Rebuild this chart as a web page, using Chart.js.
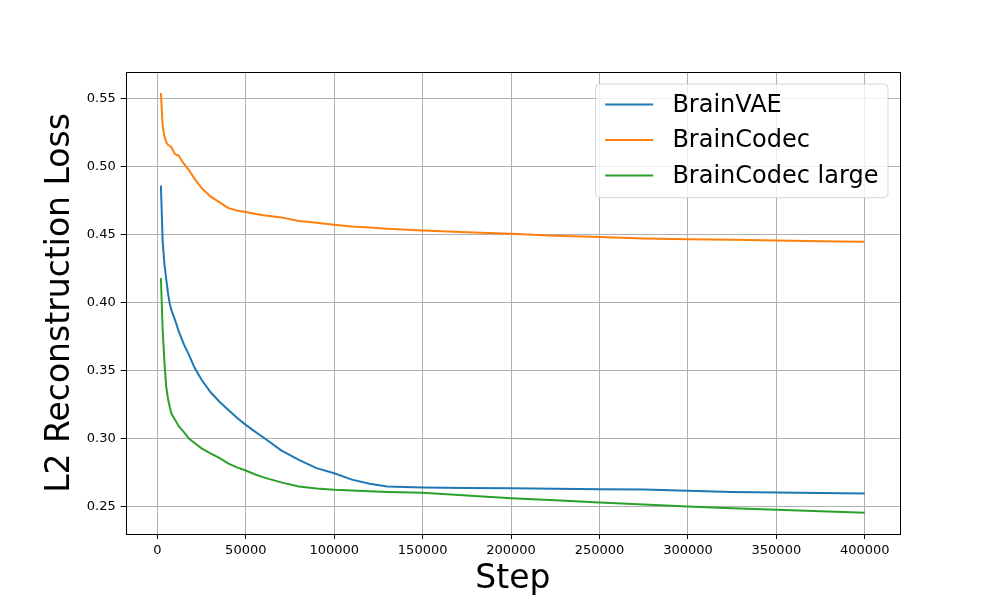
<!DOCTYPE html>
<html>
<head>
<meta charset="utf-8">
<script src="https://cdn.jsdelivr.net/npm/chart.js@4.4.1/dist/chart.umd.min.js"></script>
<style>
  body { margin: 0; background: #fff; }
  canvas { display: block; }
</style>
</head>
<body>
<canvas id="lossChart" width="1000" height="600"></canvas>
<script>
// training steps (shared by all three runs)
const steps = [2000, 3000, 4000, 5000, 6000, 7000, 8000, 10000, 12000, 15000, 18000, 21000, 25000,
  30000, 35000, 40000, 45000, 50000, 55000, 60000, 70000, 80000, 90000, 100000, 110000,
  120000, 130000, 150000, 175000, 200000, 225000, 250000, 275000, 300000, 325000, 350000,
  375000, 400000];

// L2 reconstruction loss
const brainVAE = [0.486, 0.445, 0.428, 0.417, 0.407, 0.399, 0.394, 0.387, 0.379, 0.369, 0.361, 0.352, 0.343,
  0.334, 0.327, 0.321, 0.315, 0.3098, 0.305, 0.3005, 0.291, 0.284, 0.278, 0.2742, 0.2695,
  0.2665, 0.2645, 0.2638, 0.2634, 0.2631, 0.2628, 0.2625, 0.2622, 0.2613, 0.2605, 0.26,
  0.2596, 0.2593];
const brainCodec = [0.554, 0.530, 0.522, 0.518, 0.516, 0.515, 0.514, 0.509, 0.508, 0.502, 0.497, 0.491, 0.484,
  0.478, 0.4738, 0.4695, 0.4675, 0.4664, 0.4652, 0.464, 0.4625, 0.4598, 0.4585, 0.4571, 0.4558,
  0.455, 0.4542, 0.4528, 0.4515, 0.4505, 0.449, 0.448, 0.447, 0.4465, 0.446, 0.4455,
  0.445, 0.4445];
const brainCodecLarge = [0.4179, 0.380, 0.356, 0.338, 0.329, 0.323, 0.318, 0.3135, 0.309, 0.3045, 0.2995, 0.2965, 0.2925,
  0.2888, 0.2855, 0.2815, 0.2785, 0.2762, 0.2735, 0.2712, 0.2675, 0.2645, 0.263, 0.262, 0.2615,
  0.261, 0.2605, 0.2598, 0.2578, 0.2559, 0.2543, 0.2527, 0.2512, 0.2497, 0.2485, 0.2473,
  0.2462, 0.2451];

// tick positions
const xTicks = [0, 50000, 100000, 150000, 200000, 250000, 300000, 350000, 400000];
const yTicks = [0.25, 0.30, 0.35, 0.40, 0.45, 0.50, 0.55];

const FONT = "'DejaVu Sans', sans-serif";

function toPoints(values) {
  return values.map((v, i) => ({ x: steps[i], y: v }));
}

// matplotlib-like frame + legend box inside the axes
const frameAndLegend = {
  id: 'frameAndLegend',
  afterDraw(chart) {
    const { ctx, chartArea: a } = chart;
    ctx.save();
    ctx.strokeStyle = '#000';
    ctx.lineWidth = 1;
    ctx.strokeRect(Math.round(a.left) + 0.5, Math.round(a.top) + 0.5,
      Math.round(a.right - a.left), Math.round(a.bottom - a.top));

    const fs = 24;
    ctx.font = fs + 'px ' + FONT;
    const sets = chart.data.datasets;
    const textW = Math.max(...sets.map(d => ctx.measureText(d.label).width));
    const pad = 0.4 * fs, handle = 2 * fs, gap = 0.8 * fs, rowH = 35.5;
    const w = pad + handle + gap + textW + pad;
    const h = pad * 2 + rowH * sets.length - 12;
    const x0 = a.right - 12 - w;
    const y0 = a.top + 12;

    ctx.beginPath();
    ctx.roundRect(x0, y0, w, h, 4);
    ctx.fillStyle = 'rgba(255,255,255,0.8)';
    ctx.fill();
    ctx.strokeStyle = 'rgba(204,204,204,0.8)';
    ctx.stroke();

    ctx.textBaseline = 'middle';
    ctx.textAlign = 'left';
    sets.forEach((d, i) => {
      const cy = y0 + pad + 11 + i * rowH;
      ctx.beginPath();
      ctx.moveTo(x0 + pad, cy);
      ctx.lineTo(x0 + pad + handle, cy);
      ctx.strokeStyle = d.borderColor;
      ctx.lineWidth = 2;
      ctx.stroke();
      ctx.fillStyle = '#000';
      ctx.fillText(d.label, x0 + pad + handle + gap, cy + 1);
    });
    ctx.restore();
  }
};

new Chart(document.getElementById('lossChart'), {
  type: 'line',
  data: {
    datasets: [
      { label: 'BrainVAE', data: toPoints(brainVAE), borderColor: '#1f77b4' },
      { label: 'BrainCodec', data: toPoints(brainCodec), borderColor: '#ff7f0e' },
      { label: 'BrainCodec large', data: toPoints(brainCodecLarge), borderColor: '#2ca02c' },
    ]
  },
  options: {
    responsive: false,
    animation: false,
    layout: { padding: { left: 41, right: 100, top: 72, bottom: 0 } },
    elements: {
      line: { borderWidth: 2, tension: 0, fill: false },
      point: { radius: 0, hoverRadius: 0 },
    },
    plugins: {
      legend: { display: false },
      tooltip: { enabled: false },
    },
    scales: {
      x: {
        type: 'linear',
        min: -17900,
        max: 419900,
        afterBuildTicks: scale => { scale.ticks = xTicks.map(v => ({ value: v })); },
        afterFit: scale => { scale.height = 66; },
        grid: { color: '#b0b0b0', lineWidth: 1, tickLength: 5, tickColor: '#000' },
        border: { display: false },
        ticks: {
          color: '#000',
          padding: 4,
          maxRotation: 0,
          font: { family: FONT, size: 13 },
          callback: v => String(v),
        },
        title: {
          display: true,
          text: 'Step',
          color: '#000',
          padding: { top: 0, bottom: 1 },
          font: { family: FONT, size: 33 },
        },
      },
      y: {
        min: 0.2295,
        max: 0.5695,
        afterBuildTicks: scale => { scale.ticks = yTicks.map(v => ({ value: v })); },
        afterFit: scale => { scale.width = 84.7; },
        grid: { color: '#b0b0b0', lineWidth: 1, tickLength: 5, tickColor: '#000' },
        border: { display: false },
        ticks: {
          color: '#000',
          padding: 5,
          font: { family: FONT, size: 13 },
          callback: v => v.toFixed(2),
        },
        title: {
          display: true,
          text: 'L2 Reconstruction Loss',
          color: '#000',
          padding: { top: 0, bottom: 0 },
          font: { family: FONT, size: 33 },
        },
      },
    },
  },
  plugins: [frameAndLegend],
});
</script>
</body>
</html>
